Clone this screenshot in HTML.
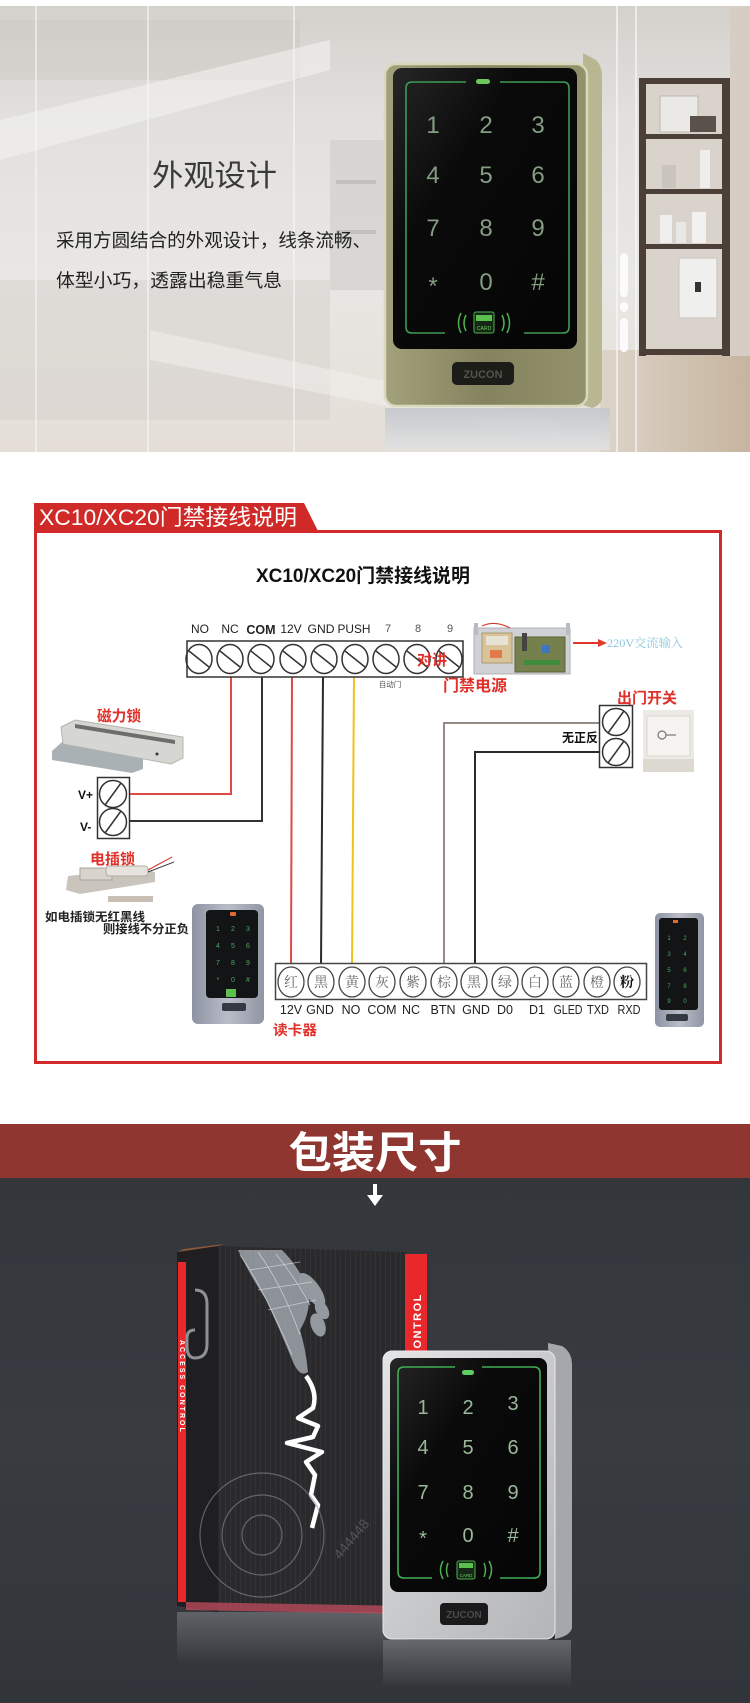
<!DOCTYPE html>
<html><head><meta charset="utf-8"><style>
html,body{margin:0;padding:0;background:#fff;}
svg{display:block;}
.s{font-family:"Liberation Sans","Noto Sans CJK SC",sans-serif;}
.sf{font-family:"Liberation Serif","Noto Serif CJK SC","Noto Sans CJK SC",serif;}
</style></head><body>
<svg width="750" height="1703" viewBox="0 0 750 1703" xmlns="http://www.w3.org/2000/svg">
<defs>
<linearGradient id="bgTop" x1="0" y1="0" x2="0" y2="1">
<stop offset="0" stop-color="#d4d1cd"/><stop offset="0.25" stop-color="#e2e0dd"/><stop offset="0.6" stop-color="#e9e7e4"/><stop offset="1" stop-color="#e4ded6"/>
</linearGradient>
<linearGradient id="bronze" x1="0" y1="0" x2="1" y2="0">
<stop offset="0" stop-color="#a3a17b"/><stop offset="0.5" stop-color="#85835f"/><stop offset="1" stop-color="#94926c"/>
</linearGradient>
<linearGradient id="screenG" x1="0" y1="0" x2="1" y2="1">
<stop offset="0" stop-color="#262626"/><stop offset="0.35" stop-color="#0a0a0a"/><stop offset="1" stop-color="#050505"/>
</linearGradient>
<linearGradient id="silver" x1="0" y1="0" x2="1" y2="1">
<stop offset="0" stop-color="#e4e5e6"/><stop offset="0.5" stop-color="#c9cacc"/><stop offset="1" stop-color="#b3b5b8"/>
</linearGradient>
<linearGradient id="reader" x1="0" y1="0" x2="1" y2="0">
<stop offset="0" stop-color="#8d93a3"/><stop offset="0.5" stop-color="#b9bdc7"/><stop offset="1" stop-color="#9096a4"/>
</linearGradient>
<linearGradient id="refl" x1="0" y1="0" x2="0" y2="1">
<stop offset="0" stop-color="#6a6c71"/><stop offset="1" stop-color="#363a3f"/>
</linearGradient>
<linearGradient id="refl2" x1="0" y1="0" x2="0" y2="1">
<stop offset="0" stop-color="#c2c6cc"/><stop offset="1" stop-color="#e2e2e2"/>
</linearGradient>
<linearGradient id="darkbg" x1="0" y1="0" x2="0" y2="1">
<stop offset="0" stop-color="#33373c"/><stop offset="0.5" stop-color="#383c41"/><stop offset="1" stop-color="#32363b"/>
</linearGradient>
<linearGradient id="wood" x1="0" y1="0" x2="1" y2="0">
<stop offset="0" stop-color="#ddd4c8"/><stop offset="1" stop-color="#c6b49e"/>
</linearGradient>
<pattern id="stripes" width="5" height="10" patternUnits="userSpaceOnUse">
<rect width="5" height="10" fill="#2a2a2c"/><rect width="1" height="10" fill="#333336"/>
</pattern>
</defs>

<!-- ============ TOP PHOTO ============ -->
<rect x="0" y="6" width="750" height="446" fill="url(#bgTop)"/>
<rect x="0" y="20" width="300" height="60" fill="#cac6c1" opacity="0.4"/>
<rect x="0" y="280" width="330" height="140" fill="#d3cfca" opacity="0.45"/>
<polygon points="0,120 330,40 330,70 0,160" fill="#f2f1ef" opacity="0.6"/>
<polygon points="150,330 560,420 560,440 150,360" fill="#f4f2ef" opacity="0.5"/>
<rect x="330" y="140" width="58" height="150" fill="#cfcdca" opacity="0.6"/>
<rect x="336" y="180" width="40" height="4" fill="#b9b6b2" opacity="0.7"/>
<rect x="336" y="230" width="40" height="4" fill="#b9b6b2" opacity="0.7"/>
<rect x="600" y="350" width="150" height="102" fill="url(#wood)"/>
<rect x="730" y="6" width="20" height="350" fill="#d6cec4"/>
<!-- vertical window lines -->
<rect x="35" y="6" width="2" height="446" fill="#f7f7f6" opacity="0.6"/>
<rect x="147" y="6" width="2" height="446" fill="#f7f7f6" opacity="0.6"/>
<rect x="293" y="6" width="2" height="446" fill="#f7f7f6" opacity="0.6"/>
<rect x="616" y="6" width="2" height="446" fill="#f7f7f6" opacity="0.7"/>
<rect x="635" y="6" width="2" height="446" fill="#f7f7f6" opacity="0.7"/>
<!-- shelf -->
<rect x="645" y="80" width="78" height="275" fill="#d9d3cc"/>
<rect x="639" y="78" width="7" height="278" fill="#4b3f38"/>
<rect x="722" y="78" width="8" height="278" fill="#4b3f38"/>
<rect x="639" y="78" width="91" height="6" fill="#4b3f38"/>
<rect x="639" y="134" width="91" height="5" fill="#4b3f38"/>
<rect x="639" y="189" width="91" height="5" fill="#4b3f38"/>
<rect x="639" y="244" width="91" height="5" fill="#4b3f38"/>
<rect x="639" y="349" width="91" height="6" fill="#4b3f38"/>
<rect x="660" y="96" width="38" height="36" fill="#ebe9e6" stroke="#bdb8b2"/>
<rect x="690" y="116" width="26" height="16" fill="#5a514a"/>
<rect x="700" y="150" width="10" height="38" fill="#eeeeec"/>
<rect x="662" y="165" width="14" height="23" fill="#c9c4be"/>
<rect x="660" y="215" width="12" height="28" fill="#f0efed"/>
<rect x="676" y="222" width="10" height="21" fill="#e9e8e6"/>
<rect x="692" y="212" width="14" height="31" fill="#f2f1ef"/>
<rect x="679" y="258" width="38" height="60" fill="#efefed" stroke="#c8c3bd"/>
<rect x="695" y="282" width="6" height="10" fill="#333"/>
<rect x="620" y="253" width="8" height="44" rx="4" fill="#fbfbfb"/>
<rect x="620" y="302" width="8" height="10" rx="4" fill="#fbfbfb"/>
<rect x="620" y="318" width="8" height="34" rx="4" fill="#fbfbfb"/>

<!-- bronze keypad -->
<rect x="385" y="408" width="225" height="42" fill="url(#refl2)" opacity="0.9"/>
<path d="M583,53 L596,60 Q602,66 602,76 L602,398 Q601,405 592,408 L583,405 Z" fill="#b8b792"/>
<rect x="385" y="64" width="202" height="342" rx="11" fill="url(#bronze)" stroke="#d8d8bc" stroke-width="2.5"/>
<rect x="393" y="68" width="184" height="281" rx="9" fill="url(#screenG)"/>
<path d="M466,82 L412,82 Q406,82 406,88 L406,327 Q406,333 412,333 L445,333 M524,333 L563,333 Q569,333 569,327 L569,88 Q569,82 563,82 L500,82" fill="none" stroke="#3f9a52" stroke-width="1.6"/>
<rect x="476" y="79" width="14" height="5" rx="2.5" fill="#6cc85a"/>
<g class="s" font-size="24" fill="#849e82" text-anchor="middle">
<text x="433" y="133">1</text><text x="486" y="133">2</text><text x="538" y="133">3</text>
<text x="433" y="183">4</text><text x="486" y="183">5</text><text x="538" y="183">6</text>
<text x="433" y="236">7</text><text x="486" y="236">8</text><text x="538" y="236">9</text>
<text x="433" y="294">*</text><text x="486" y="290">0</text><text x="538" y="290">#</text>
</g>
<g fill="none" stroke="#4fb050" stroke-width="1.5">
<path d="M461,313 Q456,323 461,333"/><path d="M466,315 Q462,323 466,331"/>
<path d="M507,313 Q512,323 507,333"/><path d="M502,315 Q506,323 502,331"/>
</g>
<rect x="474" y="312" width="20" height="21" rx="2" fill="#152715" stroke="#4fb050"/>
<rect x="476" y="315" width="16" height="6" fill="#5cc04e"/>
<text x="484" y="330" class="s" font-size="5" fill="#6fd060" text-anchor="middle">CARD</text>
<rect x="452" y="362" width="62" height="23" rx="5" fill="#1c1c18"/>
<text x="483" y="378" class="s" font-size="11" font-weight="bold" fill="#55554c" text-anchor="middle">ZUCON</text>

<!-- texts -->
<text x="152" y="186" class="s" font-size="30" fill="#3a3a3a" textLength="125" lengthAdjust="spacingAndGlyphs">外观设计</text>
<text x="56" y="247" class="s" font-size="18.5" fill="#222" textLength="315" lengthAdjust="spacingAndGlyphs">采用方圆结合的外观设计，线条流畅、</text>
<text x="56" y="287" class="s" font-size="18.5" fill="#222" textLength="226" lengthAdjust="spacingAndGlyphs">体型小巧，透露出稳重气息</text>

<!-- ============ WIRING DIAGRAM ============ -->
<polygon points="34,503 304,503 318,531 34,531" fill="#cf2a27"/>
<text x="39" y="525" class="s" font-size="22" fill="#fff" textLength="258" lengthAdjust="spacingAndGlyphs">XC10/XC20门禁接线说明</text>
<rect x="35.5" y="531.5" width="685" height="531" fill="none" stroke="#d22a2a" stroke-width="3"/>

<text x="256" y="582" class="s" font-size="19" font-weight="bold" fill="#111" textLength="214" lengthAdjust="spacingAndGlyphs">XC10/XC20门禁接线说明</text>

<!-- top terminal labels -->
<g class="s" font-size="12" fill="#222" text-anchor="middle">
<text x="200" y="633">NO</text><text x="230" y="633">NC</text>
<text x="261" y="634" font-weight="bold" font-size="12.5">COM</text>
<text x="291" y="633">12V</text>
<text x="321" y="633" textLength="27" lengthAdjust="spacingAndGlyphs">GND</text>
<text x="354" y="633" textLength="33" lengthAdjust="spacingAndGlyphs">PUSH</text>
<text x="388" y="632" fill="#555" font-size="11">7</text><text x="418" y="632" fill="#555" font-size="11">8</text><text x="450" y="632" fill="#555" font-size="11">9</text>
</g>

<!-- wires -->
<g fill="none" stroke-width="2">
<polyline points="127,794 231,794 231,677" stroke="#e04a44"/>
<polyline points="127,821 262,821 262,677" stroke="#333"/>
<line x1="292" y1="677" x2="291" y2="966" stroke="#e04a44"/>
<line x1="323" y1="677" x2="321" y2="966" stroke="#2a2a2a"/>
<line x1="354" y1="677" x2="352" y2="966" stroke="#f0c21e"/>
<polyline points="600,723 444,723 444,966" stroke="#968b84"/>
<polyline points="600,752 475,752 475,966" stroke="#2a2a2a"/>
</g>

<!-- top strip -->
<rect x="187" y="641" width="276" height="36" fill="#fff" stroke="#333" stroke-width="1.5"/>
<g fill="none" stroke="#333" stroke-width="1.5">
<ellipse cx="199" cy="659" rx="13" ry="14.5"/><line x1="189" y1="651" x2="209" y2="667"/>
<ellipse cx="230" cy="659" rx="13" ry="14.5"/><line x1="220" y1="651" x2="240" y2="667"/>
<ellipse cx="261" cy="659" rx="13" ry="14.5"/><line x1="251" y1="651" x2="271" y2="667"/>
<ellipse cx="293" cy="659" rx="13" ry="14.5"/><line x1="283" y1="651" x2="303" y2="667"/>
<ellipse cx="324" cy="659" rx="13" ry="14.5"/><line x1="314" y1="651" x2="334" y2="667"/>
<ellipse cx="355" cy="659" rx="13" ry="14.5"/><line x1="345" y1="651" x2="365" y2="667"/>
<ellipse cx="386" cy="659" rx="13" ry="14.5"/><line x1="376" y1="651" x2="396" y2="667"/>
<ellipse cx="417" cy="659" rx="13" ry="14.5"/><line x1="407" y1="651" x2="427" y2="667"/>
<ellipse cx="449" cy="659" rx="13" ry="14.5"/><line x1="439" y1="651" x2="459" y2="667"/>
</g>
<text x="390" y="687" class="s" font-size="7.5" fill="#555" text-anchor="middle">自动门</text>
<text x="432" y="665" class="s" font-size="15" font-weight="bold" fill="#e0302a" text-anchor="middle">对讲</text>
<text x="443" y="691" class="s" font-size="16" font-weight="bold" fill="#e0302a" textLength="64" lengthAdjust="spacingAndGlyphs">门禁电源</text>

<!-- power supply -->
<rect x="474" y="628" width="96" height="46" fill="#cfd1d5" stroke="#aeb1b6"/>
<rect x="474" y="623" width="4" height="12" fill="#b8bbc0"/><rect x="566" y="623" width="4" height="12" fill="#b8bbc0"/>
<rect x="482" y="633" width="30" height="30" fill="#d9c49a" stroke="#a99a70"/>
<rect x="486" y="636" width="22" height="9" fill="#e8e2d4"/>
<rect x="490" y="650" width="12" height="8" fill="#e07a4a"/>
<rect x="515" y="637" width="50" height="35" fill="#76804c" stroke="#5a6238"/>
<rect x="522" y="633" width="5" height="18" fill="#444"/>
<rect x="542" y="645" width="8" height="8" fill="#3a78c0"/>
<rect x="524" y="660" width="36" height="5" fill="#3e8c3e"/>
<path d="M482,626 Q495,620 510,628" fill="none" stroke="#d23a30" stroke-width="1.2"/>

<line x1="573" y1="643" x2="600" y2="643" stroke="#e0392b" stroke-width="2"/>
<polygon points="598,639 607,643 598,647" fill="#e0392b"/>
<text x="607" y="647" class="sf" font-size="12" fill="#8cc6de" textLength="76" lengthAdjust="spacingAndGlyphs">220V交流输入</text>

<!-- exit switch -->
<text x="617" y="703" class="s" font-size="15" font-weight="bold" fill="#e0302a" textLength="60" lengthAdjust="spacingAndGlyphs">出门开关</text>
<rect x="599.5" y="705.5" width="33" height="62" fill="#fff" stroke="#333" stroke-width="1.5"/>
<g fill="none" stroke="#333" stroke-width="1.5">
<circle cx="616" cy="722" r="13.5"/><line x1="608" y1="733" x2="624" y2="711"/>
<circle cx="616" cy="752" r="13.5"/><line x1="608" y1="763" x2="624" y2="741"/>
</g>
<rect x="643" y="710" width="51" height="62" fill="#eceae4"/>
<rect x="647" y="716" width="43" height="40" fill="#f5f4f0" stroke="#d8d6cf"/>
<circle cx="662" cy="735" r="4" fill="none" stroke="#777" stroke-width="1.2"/>
<line x1="666" y1="735" x2="676" y2="735" stroke="#777" stroke-width="1.2"/>
<rect x="643" y="759" width="51" height="13" fill="#dcd9d1"/>
<text x="562" y="742" class="s" font-size="12.5" font-weight="bold" fill="#111" textLength="36" lengthAdjust="spacingAndGlyphs">无正反</text>

<!-- mag lock -->
<text x="97" y="721" class="s" font-size="15" font-weight="bold" fill="#e0302a" textLength="44" lengthAdjust="spacingAndGlyphs">磁力锁</text>
<polygon points="52,751 62,742 143,755 143,769 132,773 52,760" fill="#a9b1b4"/>
<polygon points="61,727 75,720 183,737 183,758 171,764 63,744" fill="#d6d6d3" stroke="#b4b4b0"/>
<polygon points="75,724 175,740 175,744 75,728" fill="#6d6d6a"/>
<circle cx="157" cy="754" r="1.5" fill="#333"/>

<!-- V box -->
<rect x="97.5" y="777.5" width="32" height="61" fill="#fff" stroke="#333" stroke-width="1.5"/>
<g fill="none" stroke="#333" stroke-width="1.5">
<circle cx="113" cy="794" r="13.5"/><line x1="105" y1="805" x2="121" y2="783"/>
<circle cx="113" cy="822" r="13.5"/><line x1="105" y1="833" x2="121" y2="811"/>
</g>
<text x="78" y="799" class="s" font-size="12" font-weight="bold" fill="#111">V+</text>
<text x="80" y="831" class="s" font-size="12" font-weight="bold" fill="#111">V-</text>

<!-- electric bolt -->
<text x="90" y="864" class="s" font-size="15" font-weight="bold" fill="#e0302a" textLength="45" lengthAdjust="spacingAndGlyphs">电插锁</text>
<polygon points="68,876 140,868 155,872 155,882 80,894 66,890" fill="#c9c4bc"/>
<rect x="80" y="868" width="32" height="12" fill="#d8d4cd" stroke="#aaa39a"/>
<rect x="106" y="866" width="42" height="10" rx="3" fill="#e6e3de" stroke="#b2aca4"/>
<rect x="108" y="896" width="45" height="6" fill="#c7bfb4"/>
<line x1="148" y1="870" x2="172" y2="857" stroke="#d23a30" stroke-width="1"/>
<line x1="148" y1="872" x2="174" y2="862" stroke="#444" stroke-width="1"/>
<text x="45" y="921" class="s" font-size="12" font-weight="bold" fill="#222" textLength="100" lengthAdjust="spacingAndGlyphs">如电插锁无红黑线</text>
<text x="103" y="933" class="s" font-size="12" font-weight="bold" fill="#222" textLength="86" lengthAdjust="spacingAndGlyphs">则接线不分正负</text>

<!-- left reader -->
<rect x="192" y="904" width="72" height="120" rx="6" fill="url(#reader)"/>
<rect x="206" y="910" width="52" height="88" rx="4" fill="#121416"/>
<rect x="230" y="912" width="6" height="4" rx="1" fill="#e06a30"/>
<g class="s" font-size="7" fill="#4fa860" text-anchor="middle">
<text x="218" y="931">1</text><text x="233" y="931">2</text><text x="248" y="931">3</text>
<text x="218" y="948">4</text><text x="233" y="948">5</text><text x="248" y="948">6</text>
<text x="218" y="965">7</text><text x="233" y="965">8</text><text x="248" y="965">9</text>
<text x="218" y="982">*</text><text x="233" y="982">0</text><text x="248" y="982">#</text>
</g>
<rect x="226" y="989" width="10" height="8" fill="#5cc04e"/>
<rect x="222" y="1003" width="24" height="8" rx="2" fill="#333a44"/>

<!-- right reader -->
<rect x="655" y="913" width="49" height="114" rx="5" fill="url(#reader)"/>
<rect x="659" y="918" width="39" height="92" rx="3" fill="#121416"/>
<rect x="673" y="920" width="5" height="3" fill="#e06a30"/>
<g class="s" font-size="6" fill="#4fa860" text-anchor="middle">
<text x="669" y="940">1</text><text x="685" y="940">2</text>
<text x="669" y="956">3</text><text x="685" y="956">4</text>
<text x="669" y="972">5</text><text x="685" y="972">6</text>
<text x="669" y="988">7</text><text x="685" y="988">8</text>
<text x="669" y="1003">9</text><text x="685" y="1003">0</text>
</g>
<rect x="666" y="1014" width="22" height="7" rx="2" fill="#333a44"/>

<!-- bottom strip -->
<rect x="275.5" y="963.5" width="371" height="36" fill="#fff" stroke="#444" stroke-width="1.5"/>
<g fill="#fff" stroke="#444" stroke-width="1.3">
<ellipse cx="291" cy="982" rx="13" ry="15"/><ellipse cx="321" cy="982" rx="13" ry="15"/>
<ellipse cx="352" cy="982" rx="13" ry="15"/><ellipse cx="382" cy="982" rx="13" ry="15"/>
<ellipse cx="413" cy="982" rx="13" ry="15"/><ellipse cx="444" cy="982" rx="13" ry="15"/>
<ellipse cx="474" cy="982" rx="13" ry="15"/><ellipse cx="505" cy="982" rx="13" ry="15"/>
<ellipse cx="535" cy="982" rx="13" ry="15"/><ellipse cx="566" cy="982" rx="13" ry="15"/>
<ellipse cx="597" cy="982" rx="13" ry="15"/><ellipse cx="627" cy="982" rx="13" ry="15"/>
</g>
<g class="sf" font-size="14" fill="#666" text-anchor="middle">
<text x="291" y="987">红</text><text x="321" y="987">黑</text><text x="352" y="987">黄</text>
<text x="382" y="987">灰</text><text x="413" y="987">紫</text><text x="444" y="987">棕</text>
<text x="474" y="987">黑</text><text x="505" y="987">绿</text><text x="535" y="987">白</text>
<text x="566" y="987">蓝</text><text x="597" y="987">橙</text>
<text x="627" y="987" fill="#111" font-weight="bold">粉</text>
</g>
<g class="s" font-size="12.5" fill="#222" text-anchor="middle">
<text x="291" y="1014">12V</text><text x="320" y="1014">GND</text><text x="351" y="1014">NO</text>
<text x="382" y="1014">COM</text><text x="411" y="1014">NC</text><text x="443" y="1014">BTN</text>
<text x="476" y="1014">GND</text><text x="505" y="1014">D0</text><text x="537" y="1014">D1</text>
<text x="568" y="1014" textLength="29" lengthAdjust="spacingAndGlyphs">GLED</text>
<text x="598" y="1014" textLength="22" lengthAdjust="spacingAndGlyphs">TXD</text>
<text x="629" y="1014" textLength="23" lengthAdjust="spacingAndGlyphs">RXD</text>
</g>
<text x="273" y="1035" class="s" font-size="14" font-weight="bold" fill="#e0302a" textLength="44" lengthAdjust="spacingAndGlyphs">读卡器</text>

<!-- ============ PACKAGING ============ -->
<rect x="0" y="1124" width="750" height="54" fill="#8f3631"/>
<text x="375" y="1168" class="s" font-size="43" font-weight="bold" fill="#fff" text-anchor="middle" textLength="173" lengthAdjust="spacingAndGlyphs">包装尺寸</text>
<rect x="0" y="1178" width="750" height="525" fill="url(#darkbg)"/>
<rect x="373" y="1184" width="4" height="13" fill="#fff"/>
<polygon points="367,1195 383,1195 375,1206" fill="#fff"/>

<!-- box reflection -->
<rect x="177" y="1612" width="230" height="50" fill="url(#refl)" opacity="0.8"/>
<!-- box -->
<polygon points="177,1252 218,1246 218,1612 177,1606" fill="#1f1f21"/>
<polygon points="177,1252 218,1246 224,1244 184,1249" fill="#8a5a3a"/>
<rect x="178" y="1262" width="8" height="340" fill="#e8282b"/>
<text transform="translate(180,1340) rotate(90)" class="s" font-size="7" font-weight="bold" fill="#fff" letter-spacing="2">ACCESS CONTROL</text>
<path d="M195,1290 q12,0 12,14 l0,40 q0,14 -12,14 q-8,0 -8,-12 l0,-8 q0,-8 8,-8" fill="none" stroke="#8d9095" stroke-width="3"/>
<polygon points="218,1246 407,1252 407,1612 218,1610" fill="url(#stripes)"/>
<rect x="405" y="1254" width="22" height="112" fill="#e8282b"/>
<text transform="translate(421,1358) rotate(-90)" class="s" font-size="11" font-weight="bold" fill="#fff" letter-spacing="1.5">CONTROL</text>
<polygon points="186,1602 407,1606 407,1614 186,1610" fill="#b84a5a" opacity="0.8"/>
<!-- hand -->
<g opacity="0.75">
<path d="M238,1250 L282,1250 Q300,1268 308,1290 Q312,1310 300,1330 Q306,1350 308,1372 Q300,1378 293,1362 Q280,1330 266,1300 Q250,1275 238,1250 Z" fill="#aeb4bc"/>
<ellipse cx="312" cy="1290" rx="8" ry="20" transform="rotate(-35 312 1290)" fill="#b8bec6"/>
<ellipse cx="318" cy="1325" rx="7" ry="12" transform="rotate(-20 318 1325)" fill="#b8bec6"/>
<ellipse cx="322" cy="1310" rx="6" ry="10" transform="rotate(-30 322 1310)" fill="#b8bec6"/>
</g>
<path d="M240,1255 Q262,1285 292,1355 M258,1252 Q282,1285 300,1335 M276,1254 Q298,1282 310,1305 M250,1270 L300,1262 M258,1290 L312,1282 M268,1310 L316,1300" fill="none" stroke="#e2e6ea" stroke-width="0.8" opacity="0.7"/>
<path d="M306,1376 Q318,1392 313,1408 L298,1418 L318,1426 L313,1437 L287,1443 L322,1452 L306,1462 L315,1475 L311,1495 L318,1505 L312,1528" fill="none" stroke="#ffffff" stroke-width="4.5" stroke-linejoin="round"/>
<g fill="none" stroke="#8a8d92" stroke-width="1.2" opacity="0.6">
<circle cx="262" cy="1535" r="20"/><circle cx="262" cy="1535" r="40"/><circle cx="262" cy="1535" r="62"/>
</g>
<text x="340" y="1560" class="s" font-size="14" fill="#6c7076" opacity="0.6" transform="rotate(-50 340 1560)">444448</text>

<!-- keypad reflection -->
<rect x="383" y="1640" width="188" height="45" fill="url(#refl)" opacity="0.9"/>
<!-- keypad -->
<path d="M548,1343 L562,1346 Q572,1352 572,1365 L572,1628 Q570,1636 555,1639 Z" fill="#a5a7aa"/>
<rect x="383" y="1351" width="172" height="288" rx="9" fill="url(#silver)" stroke="#e8e9ea"/>
<rect x="390" y="1358" width="157" height="234" rx="8" fill="url(#screenG)"/>
<path d="M455,1367 L404,1367 Q398,1367 398,1373 L398,1572 Q398,1578 404,1578 L432,1578 M500,1578 L534,1578 Q540,1578 540,1572 L540,1373 Q540,1367 534,1367 L482,1367" fill="none" stroke="#3fae55" stroke-width="1.6"/>
<rect x="462" y="1370" width="12" height="5" rx="2.5" fill="#5fd060"/>
<g class="s" font-size="20" fill="#9ab89a" text-anchor="middle">
<text x="423" y="1414">1</text><text x="468" y="1414">2</text><text x="513" y="1410">3</text>
<text x="423" y="1454">4</text><text x="468" y="1454">5</text><text x="513" y="1454">6</text>
<text x="423" y="1499">7</text><text x="468" y="1499">8</text><text x="513" y="1499">9</text>
<text x="423" y="1545">*</text><text x="468" y="1542">0</text><text x="513" y="1542">#</text>
</g>
<g fill="none" stroke="#4fb050" stroke-width="1.5">
<path d="M443,1561 Q438,1570 443,1579"/><path d="M448,1563 Q445,1570 448,1577"/>
<path d="M489,1561 Q494,1570 489,1579"/><path d="M484,1563 Q487,1570 484,1577"/>
</g>
<rect x="457" y="1561" width="18" height="18" rx="2" fill="#152715" stroke="#4fb050"/>
<rect x="459" y="1563" width="14" height="5" fill="#5cc04e"/>
<text x="466" y="1577" class="s" font-size="4.5" fill="#6fd060" text-anchor="middle">CARD</text>
<rect x="440" y="1603" width="48" height="22" rx="4" fill="#1a1a1a"/>
<text x="464" y="1618" class="s" font-size="10" font-weight="bold" fill="#4a4a4a" text-anchor="middle">ZUCON</text>
</svg>
</body></html>
